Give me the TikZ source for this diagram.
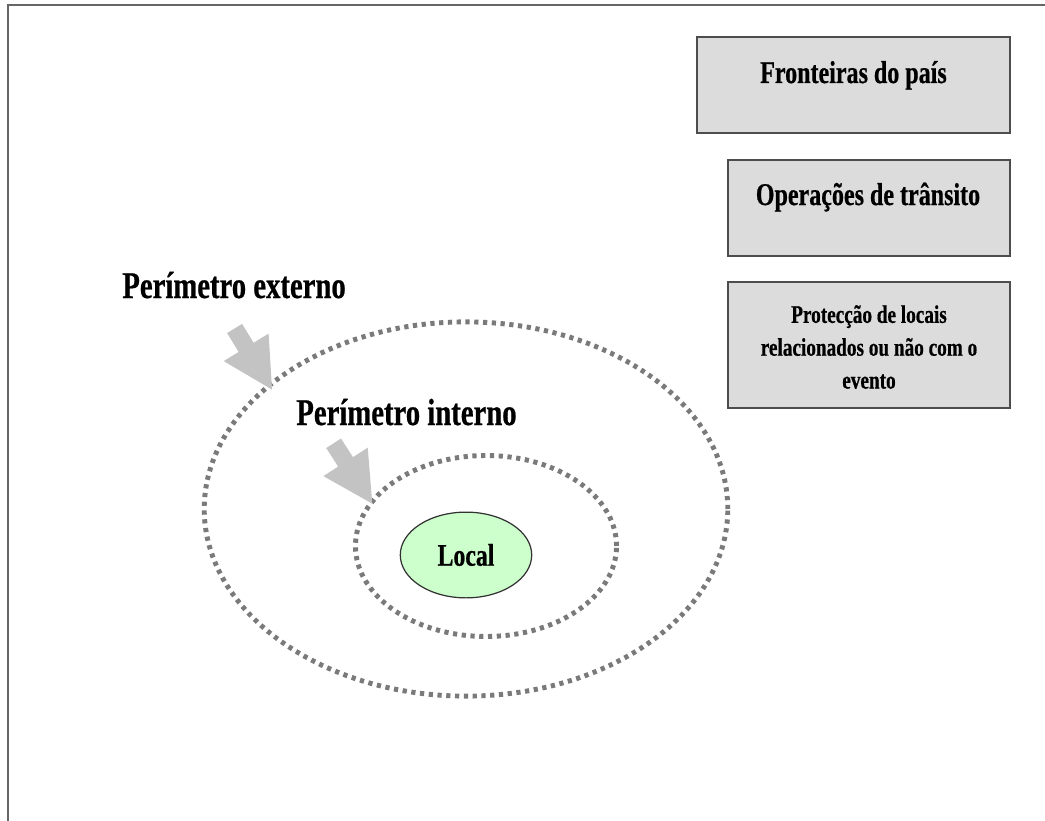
\documentclass[tikz,border=0pt]{standalone}
\usepackage{fontspec}
\setmainfont[FakeStretch=0.76, BoldFeatures={FakeBold=0.6}]{Liberation Serif}
\usetikzlibrary{shapes.geometric,shapes.arrows}

\definecolor{framegray}{HTML}{666666}
\definecolor{panelgray}{HTML}{DCDCDC}
\definecolor{panelline}{HTML}{4D4D4D}
\definecolor{dotgray}{HTML}{7A7A7A}
\definecolor{pointergray}{HTML}{C3C3C3}
\definecolor{localgreen}{HTML}{CCFFCC}

\tikzset{
  panel/.style={draw=panelline, line width=1.1pt, fill=panelgray, inner sep=0pt},
  paneltext/.style={font=\bfseries\fontsize{18}{21.5}\selectfont, inner sep=0pt},
  smalltext/.style={font=\bfseries\fontsize{14.4}{18.7}\selectfont, align=center, inner sep=0pt},
  perimeter/.style={ellipse, draw=dotgray, line width=2.8pt, dash pattern=on 2.4pt off 2.6pt, inner sep=0pt},
  pointer/.style={single arrow, fill=pointergray, inner sep=0pt, text height=4.8pt, text depth=4.8pt,
    minimum height=40.8pt, single arrow head extend=10pt, single arrow tip angle=56},
  heading/.style={font=\bfseries\fontsize{21.5}{26}\selectfont, inner sep=0pt},
}

\begin{document}
\begin{tikzpicture}[x=0.02cm, y=-0.02cm]
  \useasboundingbox (0,0) rectangle (1045,821);
  % frame
  \draw[framegray, line width=1.2pt] (8,821) -- (8,5) -- (1045,5);

  % panels on the right
  \foreach \cx/\cy/\w/\h [count=\i] in {853.5/85/178/54.4, 869/208/161/54.4, 869/345/161/71.4} {
    \node[panel, minimum width=\w pt, minimum height=\h pt] (panel\i) at (\cx,\cy) {};
  }
  \node[paneltext, anchor=base] (fronteiras) at (853.5,83) {Fronteiras do país};
  \node[paneltext, anchor=base] (transito) at (868,205) {Operações de trânsito};
  \node[smalltext] (proteccao) at (869,347) {Protecção de locais\\relacionados ou não com o\\evento};

  % perimeters
  \node[perimeter, minimum width=298pt, minimum height=213pt] (outer) at (466,509) {};
  \node[perimeter, minimum width=148.6pt, minimum height=103pt] (inner) at (486,546) {};
  \node[ellipse, draw=black!80, line width=0.7pt, fill=localgreen, minimum width=74.8pt,
    minimum height=48.8pt, font=\bfseries\fontsize{17.8}{21}\selectfont] (local) at (466,555) {Local};

  % labels and pointers
  \node[heading, anchor=base west] (externo) at (122,298) {Perímetro externo};
  \node[heading, anchor=base west] (interno) at (296,425) {Perímetro interno};
  \node[pointer, rotate=-58.5] (toouter) at (249,352) {};
  \node[pointer, rotate=-57.4] (toinner) at (348.5,466.5) {};
\end{tikzpicture}
\end{document}
